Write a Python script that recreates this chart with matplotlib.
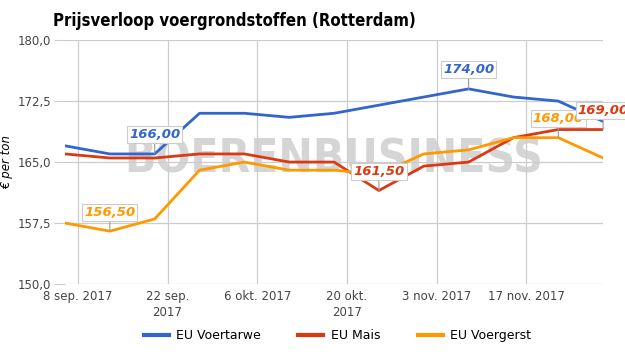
import datetime as dt
import matplotlib
matplotlib.use('Agg')
import matplotlib.pyplot as plt

# weekly prices (euro per ton)
weken = [dt.date(2017, 9, 6) + dt.timedelta(days=7 * i) for i in range(13)]
voertarwe = [167.0, 166.0, 166.0, 171.0, 171.0, 170.5, 171.0, 172.0, 173.0, 174.0, 173.0, 172.5, 170.0]
mais = [166.0, 165.5, 165.5, 166.0, 166.0, 165.0, 165.0, 161.5, 164.5, 165.0, 168.0, 169.0, 169.0]
voergerst = [157.5, 156.5, 158.0, 164.0, 165.0, 164.0, 164.0, 163.5, 166.0, 166.5, 168.0, 168.0, 165.5]

tick_dates = [dt.date(2017, 9, 8), dt.date(2017, 9, 22), dt.date(2017, 10, 6),
              dt.date(2017, 10, 20), dt.date(2017, 11, 3), dt.date(2017, 11, 17)]
tick_labels = ['8 sep. 2017', '22 sep.\n2017', '6 okt. 2017', '20 okt.\n2017', '3 nov. 2017', '17 nov. 2017']
y_ticks = [150.0, 157.5, 165.0, 172.5, 180.0]

# (series index, point index) of the value labels
labels = [(0, 2), (2, 1), (0, 9), (1, 7), (2, 11), (1, 12)]

kleuren = ['#3366CC', '#DC3912', '#FF9900']
namen = ['EU Voertarwe', 'EU Mais', 'EU Voergerst']
reeksen = [voertarwe, mais, voergerst]

fig = plt.figure(figsize=(6.25, 3.55), dpi=100)
ax = fig.add_axes([0.104, 0.2, 0.861, 0.687])

for s, c, n in zip(reeksen, kleuren, namen):
    ax.plot(weken, s, color=c, lw=2.0, label=n, zorder=3, solid_joinstyle='round')

ax.set_xlim(weken[0], weken[-1])
ax.set_ylim(150, 180)
ax.set_yticks(y_ticks)
ax.set_yticklabels([f'{v:.1f}'.replace('.', ',') for v in y_ticks])
ax.set_xticks(tick_dates)
ax.set_xticklabels(tick_labels, linespacing=1.35)
ax.grid(True, color='#cccccc', lw=0.9, zorder=0)
for sp in ax.spines.values():
    sp.set_visible(False)
ax.tick_params(axis='y', length=8, color='#cccccc', labelsize=8.5, labelcolor='#444444', pad=2)
ax.tick_params(axis='x', length=0, labelsize=8.5, labelcolor='#444444', pad=4)
ax.set_ylabel('€ per ton', fontsize=8.5, style='italic', labelpad=3)

ax.text(0.5, 0.51, 'BOERENBUSINESS', transform=ax.transAxes, ha='center', va='center',
        fontsize=33, fontweight='bold', fontstretch='condensed', color='#c8c8c8',
        alpha=0.75, zorder=1)

for si, pi in labels:
    v = reeksen[si][pi]
    ax.annotate(f'{v:.2f}'.replace('.', ','), xy=(weken[pi], v), xytext=(0, 9),
                textcoords='offset points', ha='center', va='bottom',
                fontsize=9.5, fontweight='bold', style='italic', color=kleuren[si],
                bbox=dict(boxstyle='square,pad=0.15', fc='white', ec='#cccccc', lw=0.8),
                arrowprops=dict(arrowstyle='-', color='#999999', lw=0.8, shrinkA=0, shrinkB=0),
                zorder=5, annotation_clip=False)

fig.text(0.085, 0.94, 'Prijsverloop voergrondstoffen (Rotterdam)', fontsize=12,
         fontweight='bold', fontstretch='condensed', ha='left', va='center')

leg = fig.legend(loc='center', bbox_to_anchor=(0.54, 0.055), ncol=3, frameon=False,
                 fontsize=9, handlelength=2.0, columnspacing=3.0, handletextpad=0.6)
for h in leg.get_lines():
    h.set_linewidth(3)

fig.savefig('out.png', dpi=100)
